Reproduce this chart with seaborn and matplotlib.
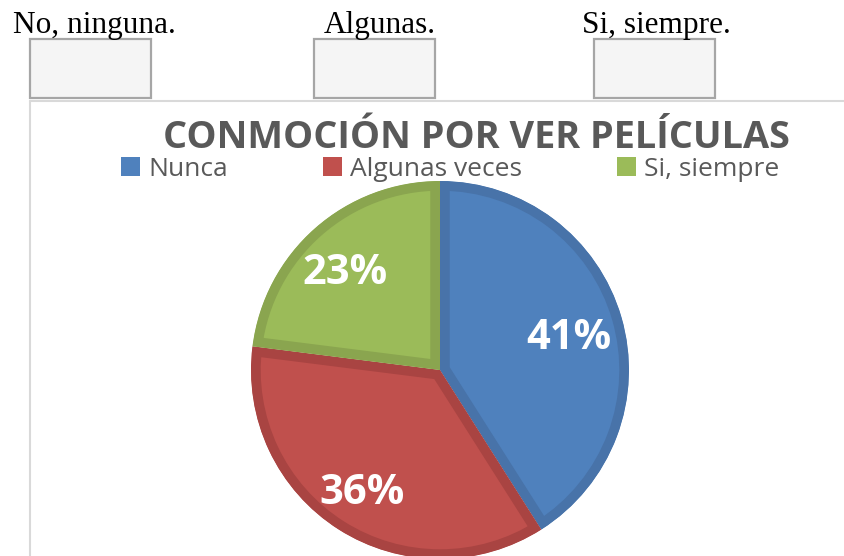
import numpy as np
import seaborn as sns
import matplotlib.pyplot as plt
from matplotlib.patches import Rectangle, Patch
from matplotlib.lines import Line2D

# Data
categories = ['Nunca', 'Algunas veces', 'Si, siempre']
percentages = [41, 36, 23]
survey_options = ['No, ninguna.', 'Algunas.', 'Si, siempre.']
title = 'CONMOCIÓN POR VER PELÍCULAS'

sns.set_theme(style='white')
plt.rcParams['font.family'] = ['Open Sans', 'DejaVu Sans']

fill_colors = sns.color_palette(['#4F81BD', '#C0504D', '#9BBB59'])
edge_colors = sns.color_palette(['#4873A9', '#A94442', '#8AA54F'])

W, H = 844, 556
fig = plt.figure(figsize=(W / 100, H / 100), dpi=100)


def fx(x):
    return x / W


def fy(y):
    return 1 - y / H


# survey header: option labels with empty boxes
option_x = [94, 380, 656]
box_x = [30, 314, 594]
for label, tx, bx in zip(survey_options, option_x, box_x):
    fig.text(fx(tx), fy(26), label, family='Liberation Serif', fontsize=22.5,
             ha='center', va='center', color='black')
    fig.add_artist(Rectangle((fx(bx), fy(98)), 121 / W, 59 / H,
                             transform=fig.transFigure, facecolor='#f5f5f5',
                             edgecolor='#a6a6a6', linewidth=1.6))

# chart frame (top and left border)
fig.add_artist(Line2D([fx(30), 1], [fy(101), fy(101)], transform=fig.transFigure,
                      color='#d9d9d9', linewidth=1.5))
fig.add_artist(Line2D([fx(30), fx(30)], [fy(101), 0], transform=fig.transFigure,
                      color='#d9d9d9', linewidth=1.5))

# title and legend
fig.text(fx(476), fy(138), title, fontsize=27.3, fontweight='bold',
         color='#595959', ha='center', va='center')

handles = [Patch(facecolor=c, edgecolor='none') for c in fill_colors]
fig.legend(handles, categories, loc='center', bbox_to_anchor=(fx(450), fy(169)),
           ncol=3, frameon=False, fontsize=19, labelcolor='#595959',
           handlelength=0.72, handleheight=0.72, handletextpad=0.3,
           columnspacing=3.6, borderaxespad=0)

# pie: center (440, 370), radius 189 px
cx, cy, r = 440, 370, 189
ax = fig.add_axes([fx(cx - r), fy(cy + r), 2 * r / W, 2 * r / H])
wedges, texts, autotexts = ax.pie(
    percentages, colors=fill_colors, startangle=90, counterclock=False,
    autopct='%1.0f%%', pctdistance=0.73,
    wedgeprops=dict(linewidth=14, edgecolor='white'),
    textprops=dict(color='white', fontsize=30, fontweight='bold'))
# darker inner border on each slice
for w, ec in zip(wedges, edge_colors):
    w.set_edgecolor(ec)
    w.set_clip_path(w)
    w.set_clip_on(True)
# labels sit a little lower in the original
for t in autotexts:
    x, y = t.get_position()
    t.set_position((x - 0.02, y - 0.035))
ax.set_xlim(-1, 1)
ax.set_ylim(-1, 1)
ax.set_aspect('auto')
ax.axis('off')

fig.savefig('out.png', dpi=100)
